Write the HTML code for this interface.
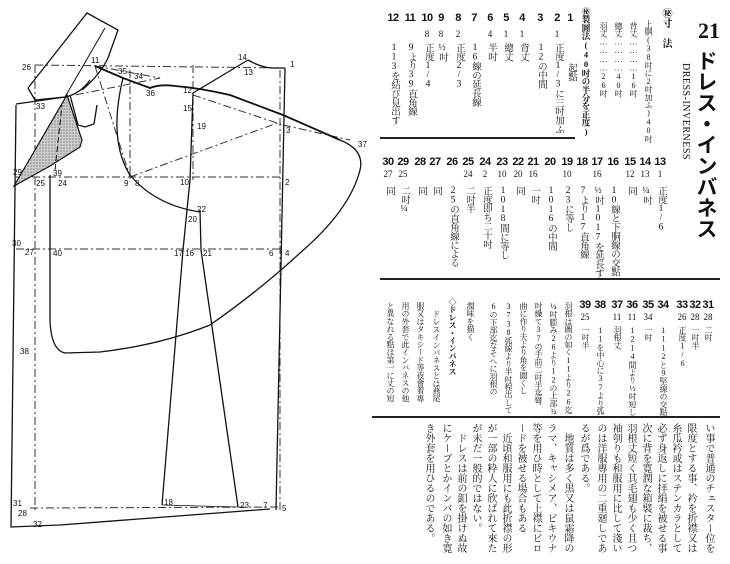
<!DOCTYPE html>
<html><head><meta charset="utf-8"><style>
html,body{margin:0;padding:0;background:#fff;}
body{width:730px;height:564px;position:relative;overflow:hidden;font-family:"Liberation Serif","Noto Serif CJK SC",serif;color:#111;}
.v{position:absolute;writing-mode:vertical-rl;text-orientation:upright;font-size:10px;line-height:11px;white-space:nowrap;}
.t{font-size:8px;letter-spacing:-0.3px;}
.u{font-size:9.5px;letter-spacing:-0.6px;}
.n{position:absolute;width:22px;text-align:center;font-family:"Liberation Sans",sans-serif;font-weight:bold;font-size:11px;line-height:12px;letter-spacing:-0.5px;}
.s{position:absolute;width:22px;text-align:center;font-size:9px;line-height:9px;}
.hr{position:absolute;height:2px;background:#222;}
svg text{font-family:"Liberation Sans",sans-serif;font-size:8px;fill:#111;}
</style></head><body>
<svg width="370" height="564" style="position:absolute;left:0;top:0">
<defs><pattern id="g" width="3" height="3" patternUnits="userSpaceOnUse"><rect width="3" height="3" fill="#ccc"/><circle cx="1" cy="1" r="0.8" fill="#888"/></pattern></defs>
<g fill="none" stroke="#333" stroke-width="1" stroke-dasharray="8 3 2 3">
<path d="M35,65 L285,68"/><path d="M16,177 L280,177"/><path d="M16,249 L280,249"/><path d="M30,508 L280,507"/>
<path d="M35,65 L35,510"/><path d="M130,70 L130,180"/><path d="M193,65 L193,180"/><path d="M280,70 L280,510"/>
<path d="M95,66 L130,177"/><path d="M193,95 L283,125"/><path d="M130,177 L280,122"/><path d="M95,66 L160,78 L75,95"/>
<path d="M283,125 L350,140"/>
</g>
<polygon points="14,186 67,95 82,140 80,147 50,166" fill="url(#g)" stroke="#111" stroke-width="1.2"/>
<g fill="none" stroke="#111" stroke-width="1.3">
<path d="M285,68 L276,510"/>
<path d="M248,60 Q262,68 273,68 L285,68"/>
<path d="M193,93 L248,60"/>
<path d="M95,66 L123,78 L150,88 Q160,84 175,86 Q200,88 230,95 L283,115 L340,140" stroke-width="1.8"/>
<path d="M340,140 Q365,150 360,170 Q350,210 300,253 Q260,290 210,325 Q160,345 100,352 L65,353 Q51,350 50,320 L50,175"/>
<path d="M16,105 L11,527 L60,525 L270,509"/>
<path d="M16,104 L65,97 Q80,94 90,80"/>
<path d="M28,88 L87,13 L118,30 L108,58 Q100,75 82,90"/>
<path d="M28,88 L35,100 L65,97"/>
<path d="M105,28 L65,97" stroke-width="1"/>
<path d="M70,95 L78,125 L85,127 L94,124 L97,105"/>
<path d="M123,78 Q108,140 130,175 Q155,205 200,212"/>
<path d="M193,93 L190,180 L183,250 L162,505"/>
<path d="M200,210 L201,250 L238,507"/>
<path d="M162,505 L238,507" stroke-width="0.8"/>
<path d="M55,170 L62,105" stroke-dasharray="6 3" stroke-width="1"/>
</g>
<g>
<text x="22" y="70">26</text><text x="91" y="63">11</text><text x="118" y="74">35</text><text x="134" y="79">34</text>
<text x="146" y="96">36</text><text x="183" y="93">12</text><text x="238" y="60">14</text><text x="244" y="75">13</text>
<text x="290" y="67">1</text><text x="183" y="111">15</text><text x="197" y="129">19</text><text x="286" y="133">3</text>
<text x="358" y="147">37</text><text x="36" y="109">33</text><text x="13" y="175">29</text><text x="36" y="186">25</text>
<text x="53" y="176">39</text><text x="58" y="186">24</text><text x="124" y="186">9</text><text x="135" y="186">8</text>
<text x="180" y="185">10</text><text x="285" y="185">2</text><text x="197" y="212">22</text><text x="188" y="222">20</text>
<text x="12" y="246">30</text><text x="25" y="255">27</text><text x="53" y="256">40</text><text x="174" y="256">17</text>
<text x="185" y="256">16</text><text x="203" y="256">21</text><text x="269" y="256">6</text><text x="285" y="256">4</text>
<text x="20" y="354">38</text><text x="13" y="506">31</text><text x="18" y="516">28</text><text x="33" y="527">32</text>
<text x="164" y="505">18</text><text x="240" y="508">23</text><text x="263" y="508">7</text><text x="282" y="511">5</text>
</g>
</svg>

<div style="position:absolute;left:698px;top:20px;font-size:22px;font-weight:bold;line-height:22px;">21</div>
<div class="v" style="left:696px;top:50px;font-size:21px;line-height:22px;font-weight:bold;font-family:'Noto Sans CJK JP',sans-serif;">ドレス・インバネス</div>
<div style="position:absolute;left:680px;top:63px;writing-mode:vertical-rl;font-size:10px;line-height:10px;letter-spacing:0.5px;">DRESS-INVERNESS</div>

<div class="v" style="left:660px;top:8px;font-weight:bold;">㊙寸　法</div>
<div class="v t" style="left:643px;top:20px;">上胴(38吋に2吋加ふ)40吋</div>
<div class="v t" style="left:628px;top:22px;">背丈…………16吋</div>
<div class="v t" style="left:613px;top:22px;">總丈…………40吋</div>
<div class="v t" style="left:598px;top:22px;">羽丈…………26吋</div>
<div class="v t" style="left:580px;top:7px;font-weight:bold;font-size:8.5px;">㊙製圖法(40吋の半分を正度)</div>

<div class="n" style="left:559px;top:12px">1</div><div class="v u" style="left:565px;top:63px">起點</div>
<div class="n" style="left:546px;top:12px">2</div><div class="s" style="left:546px;top:30px">1</div><div class="v u" style="left:552px;top:43px">正度1/3に三吋加ふ</div>
<div class="n" style="left:529px;top:12px">3</div><div class="v u" style="left:535px;top:43px">12の中間</div>
<div class="n" style="left:511px;top:12px">4</div><div class="s" style="left:511px;top:30px">1</div><div class="v u" style="left:517px;top:43px">背丈</div>
<div class="n" style="left:495px;top:12px">5</div><div class="s" style="left:495px;top:30px">1</div><div class="v u" style="left:501px;top:43px">總丈</div>
<div class="n" style="left:479px;top:12px">6</div><div class="s" style="left:479px;top:30px">4</div><div class="v u" style="left:485px;top:43px">半吋</div>
<div class="n" style="left:463px;top:12px">7</div><div class="v u" style="left:469px;top:43px">16線の延長線</div>
<div class="n" style="left:447px;top:12px">8</div><div class="s" style="left:447px;top:30px">2</div><div class="v u" style="left:453px;top:43px">正度2/3</div>
<div class="n" style="left:430px;top:12px">9</div><div class="s" style="left:430px;top:30px">8</div><div class="v u" style="left:436px;top:43px">½吋</div>
<div class="n" style="left:416px;top:12px">10</div><div class="s" style="left:416px;top:30px">8</div><div class="v u" style="left:422px;top:43px">正度1/4</div>
<div class="n" style="left:399px;top:12px">11</div><div class="v u" style="left:405px;top:43px">9より39直角線</div>
<div class="n" style="left:382px;top:12px">12</div><div class="v u" style="left:388px;top:43px">113を結び見出す</div>

<div class="hr" style="left:380px;top:137px;width:195px;"></div>

<div class="n" style="left:649px;top:156px">13</div><div class="s" style="left:649px;top:170px">1</div><div class="v u" style="left:655px;top:186px">正度1/6</div>
<div class="n" style="left:634px;top:156px">14</div><div class="s" style="left:634px;top:170px">13</div><div class="v u" style="left:640px;top:186px">¼吋</div>
<div class="n" style="left:619px;top:156px">15</div><div class="s" style="left:619px;top:170px">12</div><div class="v u" style="left:625px;top:186px">同</div>
<div class="n" style="left:602px;top:156px">16</div><div class="v u" style="left:608px;top:186px">10線と下胴線の交點</div>
<div class="n" style="left:586px;top:156px">17</div><div class="s" style="left:586px;top:170px">16</div><div class="v u" style="left:592px;top:186px">½吋1017を延長す</div>
<div class="n" style="left:571px;top:156px">18</div><div class="v u" style="left:577px;top:186px">7より17直角線</div>
<div class="n" style="left:556px;top:156px">19</div><div class="s" style="left:556px;top:170px">10</div><div class="v u" style="left:562px;top:186px">23に等し</div>
<div class="n" style="left:539px;top:156px">20</div><div class="v u" style="left:545px;top:186px">1016の中間</div>
<div class="n" style="left:522px;top:156px">21</div><div class="s" style="left:522px;top:170px">16</div><div class="v u" style="left:528px;top:186px">一吋</div>
<div class="n" style="left:507px;top:156px">22</div><div class="s" style="left:507px;top:170px">20</div><div class="v u" style="left:513px;top:186px">同</div>
<div class="n" style="left:491px;top:156px">23</div><div class="s" style="left:491px;top:170px">10</div><div class="v u" style="left:497px;top:186px">1018間に等し</div>
<div class="n" style="left:474px;top:156px">24</div><div class="s" style="left:474px;top:170px">2</div><div class="v u" style="left:480px;top:186px">正度即ち二十吋</div>
<div class="n" style="left:457px;top:156px">25</div><div class="s" style="left:457px;top:170px">24</div><div class="v u" style="left:463px;top:186px">二吋半</div>
<div class="n" style="left:441px;top:156px">26</div><div class="v u" style="left:447px;top:186px">25の直角線による</div>
<div class="n" style="left:424px;top:156px">27</div><div class="v u" style="left:430px;top:186px">同</div>
<div class="n" style="left:409px;top:156px">28</div><div class="v u" style="left:415px;top:186px">同</div>
<div class="n" style="left:392px;top:156px">29</div><div class="s" style="left:392px;top:170px">25</div><div class="v u" style="left:398px;top:186px">二吋¼</div>
<div class="n" style="left:377px;top:156px">30</div><div class="s" style="left:377px;top:170px">27</div><div class="v u" style="left:383px;top:186px">同</div>

<div class="hr" style="left:380px;top:278px;width:340px;"></div>

<div class="n" style="left:697px;top:299px">31</div><div class="s" style="left:697px;top:313px">28</div><div class="v t" style="left:703px;top:326px">二吋</div>
<div class="n" style="left:684px;top:299px">32</div><div class="s" style="left:684px;top:313px">28</div><div class="v t" style="left:690px;top:326px">一吋半</div>
<div class="n" style="left:671px;top:299px">33</div><div class="s" style="left:671px;top:313px">26</div><div class="v t" style="left:677px;top:326px">正度1/6</div>
<div class="n" style="left:652px;top:299px">34</div><div class="v t" style="left:658px;top:326px">1112と9堅線の交點</div>
<div class="n" style="left:637px;top:299px">35</div><div class="s" style="left:637px;top:313px">34</div><div class="v t" style="left:643px;top:326px">一吋</div>
<div class="n" style="left:621px;top:299px">36</div><div class="s" style="left:621px;top:313px">11</div><div class="v t" style="left:627px;top:326px">1214間より½吋短し</div>
<div class="n" style="left:606px;top:299px">37</div><div class="s" style="left:606px;top:313px">11</div><div class="v t" style="left:612px;top:326px">羽根丈</div>
<div class="n" style="left:589px;top:299px">38</div><div class="v t" style="left:595px;top:326px">11を中心に37より弧</div>
<div class="n" style="left:574px;top:299px">39</div><div class="s" style="left:574px;top:313px">25</div><div class="v t" style="left:580px;top:326px">一吋半</div>
<div class="v t" style="left:563px;top:302px">羽根は圖の如く11より26迄</div>
<div class="v t" style="left:548px;top:302px">¼吋膨み26より12の上部¾</div>
<div class="v t" style="left:533px;top:302px">吋繰て37の手前二吋半迄彎</div>
<div class="v t" style="left:518px;top:302px">曲に作り夫より角を圓くし</div>
<div class="v t" style="left:503px;top:302px">3738弧線より半吋程出して</div>
<div class="v t" style="left:488px;top:302px">6の下部迄なそヘに羽根の</div>
<div class="v t" style="left:465px;top:302px">潤味を描く</div>
<div class="v t" style="left:447px;top:298px;font-weight:bold;">◇ドレス・インバネス</div>
<div class="v t" style="left:431px;top:310px">ドレスインバネスとは燕尾</div>
<div class="v t" style="left:415px;top:302px">服又はタキシード等夜會着專</div>
<div class="v t" style="left:400px;top:302px">用の外套で此インバネスの他</div>
<div class="v t" style="left:385px;top:302px">と異なれる點は第一に丈の短</div>

<div class="hr" style="left:372px;top:416px;width:348px;"></div>

<div class="v" style="left:703px;top:423px">い事で普通のチェスター位を</div>
<div class="v" style="left:685px;top:423px">限度とする事、衿を折襟又は</div>
<div class="v" style="left:670px;top:423px">糸瓜衿或はステンカラとして</div>
<div class="v" style="left:655px;top:423px">必ず身返しに拝絹を被せる事</div>
<div class="v" style="left:640px;top:423px">次に背を寛潤な箱襞に裁ち、</div>
<div class="v" style="left:625px;top:423px">羽根丈短く其毛翅も少く且つ</div>
<div class="v" style="left:610px;top:423px">袖刳りも和服用に比して淺い</div>
<div class="v" style="left:595px;top:423px">のは洋服專用の二重廻しであ</div>
<div class="v" style="left:578px;top:423px">るが爲である。</div>
<div class="v" style="left:562px;top:433px">地質は多く黒又は鼠霜降の</div>
<div class="v" style="left:545px;top:423px">ラマ、キャシメア、ビキウナ</div>
<div class="v" style="left:530px;top:423px">等を用ひ時として上襟にビロ</div>
<div class="v" style="left:515px;top:423px">ードを被せる場合もある</div>
<div class="v" style="left:500px;top:433px">近頃和服用にも此折襟の形</div>
<div class="v" style="left:485px;top:423px">が一部の粋人に欣ばれて來た</div>
<div class="v" style="left:470px;top:423px">が未だ一般的ではない。</div>
<div class="v" style="left:455px;top:433px">ドレスは前の釦を掛けぬ故</div>
<div class="v" style="left:440px;top:423px">にケープとかインバの如き寛</div>
<div class="v" style="left:423px;top:423px">き外套を用ひるのである。</div>
</body></html>
